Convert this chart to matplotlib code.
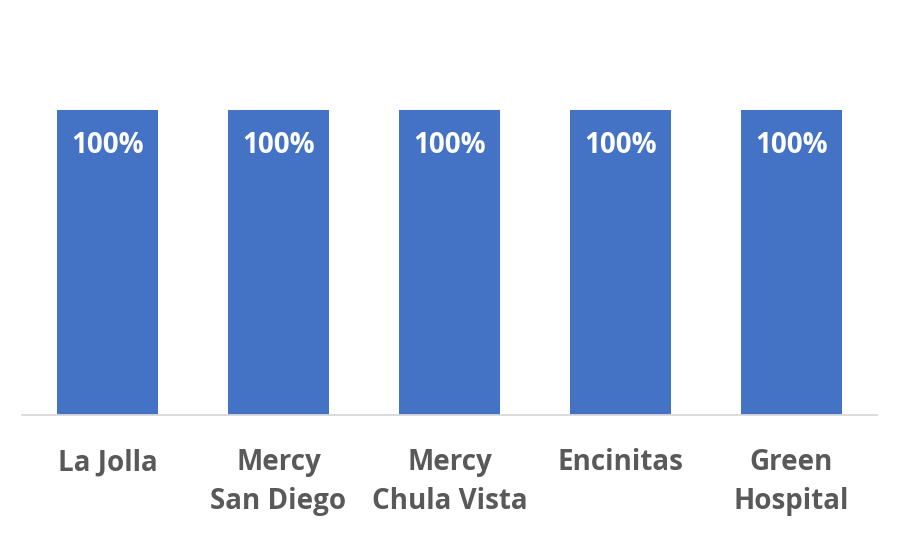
import matplotlib.pyplot as plt

# --- data ---
hospitals = ["La Jolla", "Mercy\nSan Diego", "Mercy\nChula Vista", "Encinitas", "Green\nHospital"]
rates = [1.0, 1.0, 1.0, 1.0, 1.0]

bar_color = "#4472C4"
text_grey = "#595959"
font = "Open Sans"

fig = plt.figure(figsize=(9, 5.6), dpi=100)
ax = fig.add_axes([22 / 900, 145 / 560, 855 / 900, 366 / 560])

x = list(range(len(hospitals)))
bars = ax.bar(x, rates, width=0.585, color=bar_color)

for b, v in zip(bars, rates):
    ax.text(b.get_x() + b.get_width() / 2, v - 0.07, f"{v:.0%}",
            ha="center", va="top", color="white", fontsize=20,
            fontweight="bold", family=font)

ax.set_xlim(-0.5, len(hospitals) - 0.5)
ax.set_ylim(0, 1.2)
ax.set_yticks([])
ax.set_xticks(x)
ax.set_xticklabels(hospitals, fontsize=20, fontweight="bold", family=font,
                   color=text_grey, linespacing=1.46)
ax.tick_params(axis="x", length=0, pad=24)

for s in ["top", "right", "left"]:
    ax.spines[s].set_visible(False)
ax.spines["bottom"].set_color("#D9D9D9")
ax.spines["bottom"].set_linewidth(1.3)

fig.savefig("out.png", dpi=100)
plt.close()
